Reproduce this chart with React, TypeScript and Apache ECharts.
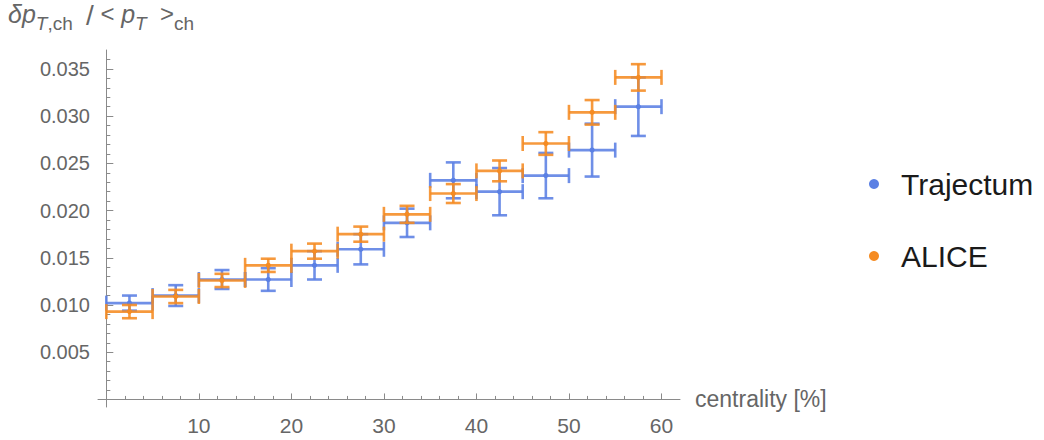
import React, { useEffect, useRef } from "react";
import * as echarts from "echarts";

// centrality bins [%]
const binLow = [0, 5, 10, 15, 20, 25, 30, 35, 40, 45, 50, 55];
const binHigh = [5, 10, 15, 20, 25, 30, 35, 40, 45, 50, 55, 60];

// Trajectum
const trajectum = [0.0102, 0.0110, 0.0127, 0.0127, 0.0142, 0.0159, 0.0187, 0.0232, 0.0220, 0.0237, 0.0264, 0.0310];
const trajectumErr = [0.0008, 0.0011, 0.0010, 0.0012, 0.0015, 0.0016, 0.0015, 0.0019, 0.0025, 0.0024, 0.0028, 0.0031];

// ALICE
const alice = [0.0093, 0.0109, 0.0126, 0.0142, 0.0157, 0.0175, 0.0196, 0.0218, 0.0242, 0.0271, 0.0304, 0.0341];
const aliceErr = [0.0007, 0.0007, 0.0007, 0.0007, 0.0008, 0.0008, 0.0009, 0.0010, 0.0011, 0.0012, 0.0013, 0.0014];

// ticks
const xMajorTicks = [10, 20, 30, 40, 50, 60];
const xMinorTicks = [2, 4, 6, 8, 12, 14, 16, 18, 22, 24, 26, 28, 32, 34, 36, 38, 42, 44, 46, 48, 52, 54, 56, 58];
const yMajorTicks = [0.005, 0.01, 0.015, 0.02, 0.025, 0.03, 0.035];
const yMinorTicks = [
  0.001, 0.002, 0.003, 0.004, 0.006, 0.007, 0.008, 0.009, 0.011, 0.012, 0.013, 0.014,
  0.016, 0.017, 0.018, 0.019, 0.021, 0.022, 0.023, 0.024, 0.026, 0.027, 0.028, 0.029,
  0.031, 0.032, 0.033, 0.034, 0.036,
];

const BLUE = "#5B80E4";
const ORANGE = "#F58B22";
const FONT = "'Liberation Sans', Arial, Helvetica, sans-serif";
const GRAY = "#666666";
const AXIS = "#8a8a8a";

function makeSeries(name: string, color: string, vals: number[], errs: number[]) {
  return {
    type: "custom",
    name,
    xAxisIndex: 0,
    yAxisIndex: 0,
    itemStyle: { color },
    data: vals.map((v, i) => [binLow[i], binHigh[i], v, errs[i]]),
    encode: { x: [0, 1], y: 2 },
    renderItem: (_params: any, api: any) => {
      const lo = api.value(0);
      const hi = api.value(1);
      const v = api.value(2);
      const e = api.value(3);
      const mid = (lo + hi) / 2;
      const pL = api.coord([lo, v]);
      const pR = api.coord([hi, v]);
      const pC = api.coord([mid, v]);
      const pT = api.coord([mid, v + e]);
      const pB = api.coord([mid, v - e]);
      const cap = 7.5;
      const style = { stroke: color, lineWidth: 2.6, opacity: 0.88 };
      const ln = (x1: number, y1: number, x2: number, y2: number) => ({
        type: "line",
        shape: { x1, y1, x2, y2 },
        style,
      });
      return {
        type: "group",
        children: [
          ln(pL[0], pC[1], pR[0], pC[1]),
          ln(pL[0], pC[1] - cap, pL[0], pC[1] + cap),
          ln(pR[0], pC[1] - cap, pR[0], pC[1] + cap),
          ln(pC[0], pT[1], pC[0], pB[1]),
          ln(pC[0] - cap, pT[1], pC[0] + cap, pT[1]),
          ln(pC[0] - cap, pB[1], pC[0] + cap, pB[1]),
          { type: "circle", shape: { cx: pC[0], cy: pC[1], r: 2.6 }, style: { fill: color } },
        ],
      };
    },
  };
}

export default function App() {
  const ref = useRef<HTMLDivElement>(null);
  useEffect(() => {
    document.body.style.margin = "0";
    if (!ref.current) return;
    const chart = echarts.init(ref.current, null, { renderer: "svg" });
    const xCommon = { type: "value", min: -0.9, max: 62, position: "bottom", splitLine: { show: false } };
    const yCommon = { type: "value", min: -0.0008, max: 0.037, position: "left", splitLine: { show: false } };
    chart.setOption({
      animation: false,
      textStyle: { fontFamily: FONT },
      grid: { left: 98, right: 364, top: 50, bottom: 33, containLabel: false },
      graphic: [
        {
          type: "text",
          left: 8,
          top: 1,
          style: {
            text: "{i|δp}{si|T}{s|,ch}{n|  }{sl|/}{n| < }{i|p}{si|T}{n|  >}{s|ch}",
            fill: GRAY,
            rich: {
              i: { fontFamily: FONT, fontSize: 25, fontStyle: "italic", lineHeight: 27, verticalAlign: "top", fill: GRAY },
              n: { fontFamily: FONT, fontSize: 24, lineHeight: 27, verticalAlign: "top", fill: GRAY },
              sl: { fontFamily: FONT, fontSize: 28, lineHeight: 28, verticalAlign: "top", fill: GRAY },
              si: { fontFamily: FONT, fontSize: 19, fontStyle: "italic", lineHeight: 19, padding: [13, 0, 0, 0], verticalAlign: "top", fill: GRAY },
              s: { fontFamily: FONT, fontSize: 19, lineHeight: 19, padding: [13, 0, 0, 0], verticalAlign: "top", fill: GRAY },
            },
          },
        },
      ],
      legend: {
        orient: "vertical",
        left: 864,
        top: 164,
        itemWidth: 44,
        itemHeight: 10,
        itemGap: 42,
        icon: "circle",
        textStyle: { fontFamily: FONT, fontSize: 30, color: "#1a1a1a", lineHeight: 30 },
        data: [
          { name: "Trajectum", icon: "circle" },
          { name: "ALICE", icon: "circle" },
        ],
      },
      xAxis: [
        {
          ...xCommon,
          name: "centrality [%]",
          nameLocation: "end",
          nameGap: 15,
          nameTextStyle: { fontFamily: FONT, fontSize: 23, color: GRAY },
          axisLine: { show: true, onZero: true, onZeroAxisIndex: 0, lineStyle: { color: AXIS, width: 1 } },
          axisTick: { show: true, inside: true, length: 6, customValues: xMajorTicks, lineStyle: { color: AXIS } },
          axisLabel: { show: true, customValues: xMajorTicks, fontFamily: FONT, fontSize: 21, color: GRAY, margin: 8 },
        },
        {
          ...xCommon,
          axisLine: { show: false, onZero: true, onZeroAxisIndex: 0 },
          axisTick: { show: true, inside: true, length: 3.5, customValues: xMinorTicks, lineStyle: { color: AXIS } },
          axisLabel: { show: false },
        },
      ],
      yAxis: [
        {
          ...yCommon,
          axisLine: { show: true, onZero: true, onZeroAxisIndex: 0, lineStyle: { color: AXIS, width: 1 } },
          axisTick: { show: true, inside: true, length: 7, customValues: yMajorTicks, lineStyle: { color: AXIS } },
          axisLabel: {
            show: true,
            customValues: yMajorTicks,
            fontFamily: FONT,
            fontSize: 20,
            color: GRAY,
            margin: 8,
            formatter: (v: number) => v.toFixed(3),
          },
        },
        {
          ...yCommon,
          axisLine: { show: false, onZero: true, onZeroAxisIndex: 0 },
          axisTick: { show: true, inside: true, length: 4, customValues: yMinorTicks, lineStyle: { color: AXIS } },
          axisLabel: { show: false },
        },
      ],
      series: [
        makeSeries("Trajectum", BLUE, trajectum, trajectumErr),
        makeSeries("ALICE", ORANGE, alice, aliceErr),
      ],
    });
    return () => chart.dispose();
  }, []);
  return <div ref={ref} style={{ width: 1044, height: 440 }} />;
}
